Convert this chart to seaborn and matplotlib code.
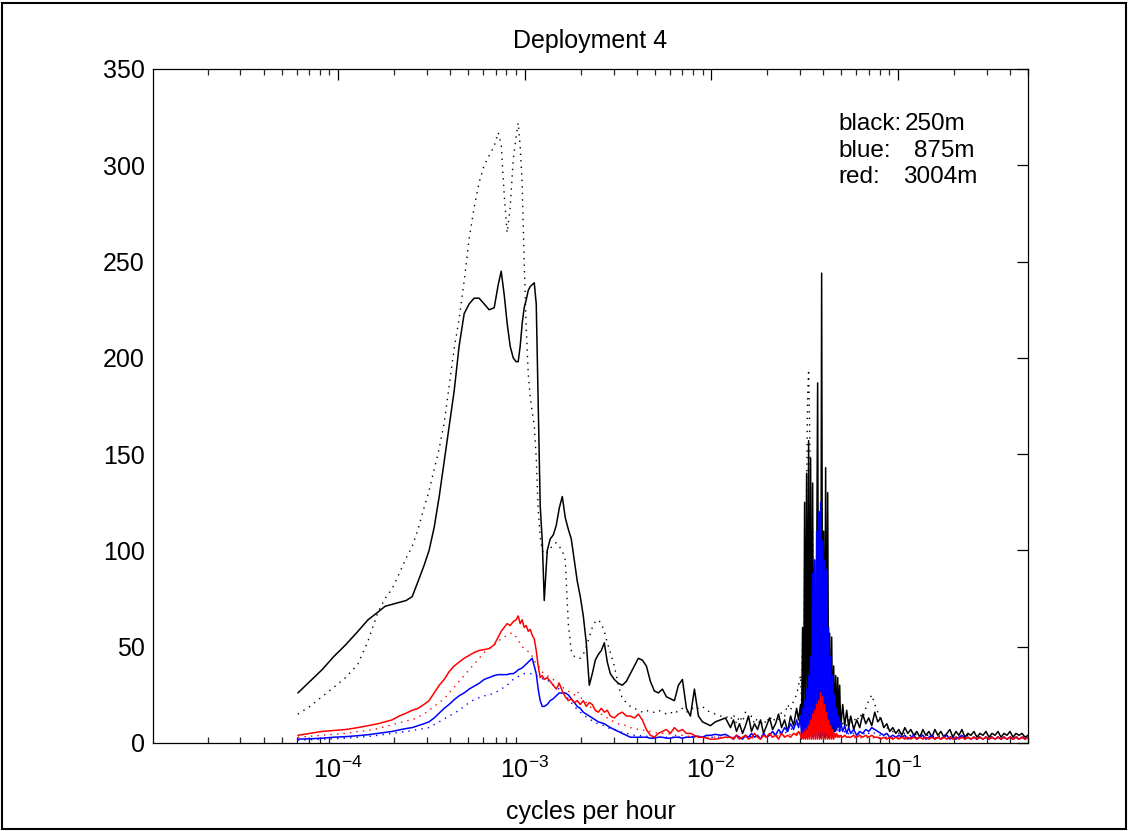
import numpy as np
import pandas as pd
import matplotlib
matplotlib.use("Agg")
import matplotlib.pyplot as plt
import seaborn as sns
from matplotlib.patches import Rectangle
from matplotlib.ticker import FixedLocator, LogLocator, LogFormatterSciNotation, NullFormatter

# ---------------- data (frequency in cycles per hour, spectral level) ----------------
freq_lo = [
    6.10e-5, 7.07e-5, 8.21e-5, 9.52e-5, 1.10e-4, 1.28e-4, 1.45e-4, 1.64e-4, 1.79e-4, 1.95e-4,
    2.13e-4, 2.32e-4, 2.50e-4, 2.69e-4, 2.89e-4, 3.08e-4, 3.28e-4, 3.49e-4, 3.71e-4, 3.94e-4,
    4.20e-4, 4.46e-4, 4.75e-4, 5.05e-4, 5.37e-4, 5.71e-4, 6.08e-4, 6.46e-4, 6.88e-4, 7.23e-4,
    7.50e-4, 7.78e-4, 8.07e-4, 8.38e-4, 8.70e-4, 9.02e-4, 9.25e-4, 9.48e-4, 9.72e-4, 9.96e-4,
    1.021e-3, 1.047e-3, 1.073e-3, 1.100e-3, 1.128e-3, 1.156e-3, 1.184e-3, 1.214e-3, 1.245e-3, 1.276e-3,
    1.324e-3, 1.374e-3, 1.426e-3, 1.480e-3, 1.536e-3, 1.594e-3, 1.654e-3, 1.717e-3, 1.781e-3, 1.849e-3,
    1.918e-3, 1.991e-3, 2.066e-3, 2.144e-3, 2.225e-3, 2.309e-3, 2.396e-3, 2.487e-3, 2.580e-3, 2.678e-3,
    2.779e-3, 2.884e-3, 3.030e-3, 3.184e-3, 3.345e-3, 3.515e-3, 3.693e-3, 3.880e-3, 4.077e-3, 4.284e-3,
    4.501e-3, 4.729e-3, 4.969e-3, 5.221e-3, 5.485e-3, 5.764e-3, 6.056e-3, 6.362e-3, 6.683e-3, 7.023e-3,
    7.379e-3, 7.752e-3, 8.145e-3, 8.558e-3, 8.991e-3, 9.447e-3, 9.926e-3, 1.056e-2, 1.123e-2, 1.195e-2,
]
freq_hi = [
    0.01271, 0.01319, 0.01369, 0.01421, 0.01475, 0.01530, 0.01588, 0.01648, 0.01710, 0.01775,
    0.01842, 0.01912, 0.01984, 0.02059, 0.02137, 0.02217, 0.02301, 0.02388, 0.02479, 0.02572,
    0.02669, 0.02770, 0.02875, 0.02945, 0.03019, 0.03057, 0.03095, 0.03134, 0.03173, 0.03212,
    0.03252, 0.03293, 0.03334, 0.03375, 0.03417, 0.03460, 0.03503, 0.03546, 0.03591, 0.03635,
    0.03681, 0.03727, 0.03773, 0.03820, 0.03868, 0.03916, 0.03964, 0.04014, 0.04064, 0.04114,
    0.04166, 0.04218, 0.04270, 0.04323, 0.04377, 0.04432, 0.04487, 0.04543, 0.04599, 0.04656,
    0.04714, 0.04773, 0.04832, 0.04892, 0.04953, 0.05077, 0.05204, 0.05334, 0.05468, 0.05605,
    0.05817, 0.06037, 0.06265, 0.06502, 0.06748, 0.07003, 0.07268, 0.07542, 0.07827, 0.08124,
    0.08431, 0.08749, 0.09080, 0.09423, 0.09781, 0.1015, 0.1053, 0.1093, 0.1134, 0.1177,
    0.1222, 0.1268, 0.1316, 0.1366, 0.1417, 0.1471, 0.1527, 0.1584, 0.1644, 0.1707,
    0.1771, 0.1838, 0.1907, 0.1979, 0.2054, 0.2132, 0.2212, 0.2296, 0.2383, 0.2473,
    0.2566, 0.2663, 0.2764, 0.2868, 0.2977, 0.3089, 0.3206, 0.3327, 0.3453, 0.3583,
    0.3719, 0.3859, 0.4005, 0.4156, 0.4313, 0.4476, 0.4645, 0.4821, 0.5000,
]

# black: 250 m (solid / dotted)
black_solid_lo = [
    26, 32, 38, 45, 51, 58, 64, 68, 71, 72,
    73, 74, 76, 84, 92, 100, 112, 128, 146, 164,
    183, 206, 223, 228, 231, 231, 228, 225, 226, 238,
    245, 233, 218, 206, 200, 198, 198, 206, 218, 226,
    230, 235, 237, 238, 239, 228, 176, 123, 105, 74,
    100, 106, 108, 113, 122, 128, 117, 111, 106, 95,
    84, 76, 66, 52, 30, 36, 43, 46, 48, 52,
    42, 36, 33, 31, 30, 32, 36, 40, 44, 43,
    40, 32, 27, 26, 28, 24, 23, 22, 30, 33,
    18, 14, 28, 14, 11, 10, 9, 11, 12, 13,
]
black_solid_hi = [
    8, 12, 6, 10, 5, 9, 14, 6, 10, 7,
    12, 5, 9, 13, 7, 10, 15, 8, 12, 6,
    14, 9, 18, 12, 20, 8, 60, 4, 125, 5,
    140, 6, 157, 4, 148, 5, 135, 4, 95, 3,
    85, 187, 4, 120, 3, 244, 4, 110, 3, 143,
    4, 130, 3, 57, 5, 55, 4, 40, 6, 35,
    7, 34, 9, 30, 8, 20, 9, 17, 8, 14,
    7, 12, 8, 15, 10, 13, 9, 16, 11, 13,
    8, 10, 6, 8, 5, 7, 4, 8, 5, 7,
    4, 6, 3, 7, 4, 6, 3, 7, 4, 6,
    3, 5, 7, 3, 6, 4, 7, 3, 5, 4,
    6, 3, 5, 4, 6, 3, 5, 4, 6, 3,
    5, 4, 6, 3, 5, 4, 5, 3, 4,
]
black_dot_lo = [
    15, 19, 24, 29, 34, 41, 53, 68, 75, 80,
    88, 96, 102, 111, 122, 131, 142, 153, 166, 185,
    205, 220, 240, 262, 278, 291, 300, 305, 310, 317,
    311, 285, 265, 278, 303, 315, 322, 310, 290, 250,
    216, 192, 180, 172, 165, 148, 121, 107, 100, 98,
    99, 101, 103, 104, 102, 100, 95, 62, 48, 45,
    44, 44, 46, 50, 55, 60, 63, 64, 62, 58,
    52, 47, 40, 30, 23, 21, 19, 18, 17, 16,
    17, 16, 16, 17, 16, 15, 16, 15, 17, 18,
    16, 17, 19, 18, 19, 17, 16, 15, 14, 14,
]
black_dot_hi = [
    12, 15, 10, 14, 11, 16, 12, 14, 10, 13,
    9, 12, 10, 14, 11, 13, 12, 16, 14, 20,
    17, 22, 25, 30, 35, 20, 55, 30, 90, 60,
    130, 180, 194, 165, 120, 70, 110, 40, 60, 25,
    50, 30, 45, 20, 60, 30, 90, 50, 70, 25,
    40, 20, 30, 15, 25, 12, 20, 10, 16, 8,
    14, 9, 13, 8, 12, 10, 13, 9, 12, 10,
    13, 11, 15, 13, 18, 22, 25, 20, 16, 12,
    9, 8, 7, 6, 5, 5, 4, 5, 4, 4,
    5, 4, 4, 5, 4, 4, 3, 4, 4, 3,
    4, 4, 3, 4, 3, 4, 3, 3, 4, 3,
    3, 4, 3, 3, 3, 4, 3, 3, 3, 3,
    3, 3, 3, 3, 3, 3, 3, 3, 3,
]

# blue: 875 m (solid / dotted)
blue_solid_lo = [
    2, 2.2, 2.5, 3, 3.3, 3.8, 4.3, 5, 5.5, 6,
    6.8, 7.5, 8, 9, 10, 11, 13, 15.5, 18, 20,
    22.5, 24.5, 26, 28, 29.5, 31, 33, 34, 35, 35.5,
    35.5, 35.5, 35.5, 36, 36, 37, 38, 38.5, 39, 40,
    41, 42, 43, 44, 40, 36, 28, 22, 19, 19,
    20, 22, 23, 24.5, 26, 26, 26, 25, 23, 21,
    19, 18, 16, 15, 14, 13, 12, 11, 10.5, 10,
    9, 8, 7, 6, 5, 4, 3, 3, 3, 3,
    3, 2.5, 2.5, 3, 3, 2.5, 2.5, 3, 3, 2.5,
    3, 3, 3.5, 3.5, 3, 4, 4, 4.5, 4, 4.5,
]
blue_solid_hi = [
    3, 2, 4, 3, 2, 4, 3, 5, 3, 4,
    2, 5, 3, 4, 6, 4, 7, 5, 8, 6,
    10, 7, 12, 8, 14, 3, 18, 4, 22, 3,
    28, 3, 35, 4, 45, 3, 88, 3, 95, 4,
    110, 3, 120, 4, 125, 3, 105, 4, 95, 3,
    90, 4, 60, 3, 45, 4, 35, 5, 25, 6,
    18, 8, 14, 6, 11, 6, 9, 5, 8, 5,
    7, 4, 6, 5, 7, 6, 8, 7, 6, 5,
    4, 5, 3, 4, 3, 4, 3, 4, 2, 3,
    4, 2, 3, 4, 2, 3, 4, 2, 3, 2,
    3, 4, 2, 3, 2, 3, 4, 2, 3, 2,
    3, 2, 3, 2, 3, 2, 3, 2, 3, 2,
    3, 2, 3, 2, 3, 2, 3, 2, 3,
]
blue_dot_lo = [
    1.5, 1.7, 2, 2.2, 2.5, 3, 3.4, 4, 4.5, 5,
    5.5, 6, 6.5, 7, 7.5, 8, 9.5, 11, 12.5, 14,
    15.5, 17, 19, 21, 22.5, 23.5, 24.5, 25, 26, 27,
    28, 29, 30, 31.5, 33, 34, 34.5, 35, 35.5, 36,
    36, 36, 36, 36, 35.5, 35, 34.5, 34, 33.5, 33,
    33, 31, 30, 29, 28, 26.5, 25, 23, 21, 19,
    17.5, 16, 15, 13.5, 12.5, 11.5, 10.5, 10, 9.5, 9,
    8, 7.5, 7, 6, 5.5, 5, 4.5, 4, 4, 3.5,
    3.5, 3, 3, 3, 3, 3, 3, 3, 3, 3,
    3, 3, 3, 3, 3, 3, 3, 3, 3, 3,
]
blue_dot_hi = [
    3, 2.5, 3, 2.5, 3, 3.5, 3, 3.5, 3, 4,
    3.5, 4, 3.5, 4.5, 4, 5, 4.5, 5.5, 5, 6,
    7, 8, 10, 12, 12, 8, 14, 9, 16, 10,
    18, 12, 20, 14, 25, 15, 50, 30, 55, 35,
    65, 40, 75, 45, 80, 50, 70, 40, 60, 30,
    45, 25, 35, 18, 25, 12, 18, 9, 14, 7,
    10, 6, 8, 5, 7, 5, 6, 4, 5, 4,
    5, 4, 5, 4, 6, 5, 6, 5, 4, 4,
    3, 3, 3, 2.5, 3, 2.5, 3, 2.5, 3, 2.5,
    3, 2.5, 3, 2.5, 3, 2.5, 3, 2.5, 3, 2.5,
    3, 2.5, 3, 2.5, 3, 2.5, 3, 2.5, 3, 2.5,
    3, 2.5, 3, 2.5, 3, 2.5, 3, 2.5, 3, 2.5,
    3, 2.5, 3, 2.5, 3, 2.5, 3, 2.5, 3,
]

# red: 3004 m (solid / dotted)
red_solid_lo = [
    4, 5, 6, 6.5, 7, 8, 9, 10, 11, 12,
    14, 15.5, 17, 18, 20, 22, 26, 30, 33, 37,
    40, 42, 44, 45.5, 47, 48, 48.5, 49, 51, 55,
    58, 60, 62, 61, 63, 64, 66, 62, 64, 60,
    61, 58, 59, 56, 54, 48, 40, 34, 35, 33,
    34, 32, 30, 28, 31, 27, 24, 22, 23, 21,
    22, 20, 22, 19, 21, 20, 17, 16, 18, 16,
    17, 14, 13, 15, 16, 14, 14, 13, 15, 12,
    7, 4, 3, 5, 6, 7, 5, 8, 6, 7,
    5, 5, 4, 3, 3, 2.5, 2, 2, 2.5, 3,
]
red_solid_hi = [
    3, 2, 4, 2, 3, 4, 2, 3, 5, 3,
    2, 4, 3, 5, 3, 4, 2, 5, 3, 4,
    3, 5, 4, 6, 4, 2, 5, 2, 6, 2,
    7, 2, 9, 2, 12, 2, 15, 2, 17, 2,
    20, 2, 22, 2, 26, 2, 24, 2, 20, 2,
    16, 2, 12, 2, 9, 2, 7, 2, 5, 3,
    5, 3, 4, 3, 4, 3, 4, 3, 3, 3,
    4, 3, 4, 3, 4, 3, 4, 3, 3, 2,
    3, 2, 3, 2, 3, 2, 3, 2, 3, 2,
    3, 2, 3, 2, 3, 2, 3, 2, 3, 2,
    3, 2, 3, 2, 3, 2, 3, 2, 3, 2,
    3, 2, 3, 2, 3, 2, 3, 2, 3, 2,
    3, 2, 3, 2, 3, 2, 3, 2, 3,
]
red_dot_lo = [
    3, 3.5, 4, 4.5, 5, 6, 6.5, 7.5, 8.5, 9.5,
    10.5, 11.5, 12, 13.5, 15, 17, 19, 21, 23, 26,
    29, 32, 35, 38, 41, 44, 47, 49, 51, 53,
    54, 55, 56, 57, 57, 55, 53, 52, 50, 49,
    48, 47.5, 47, 45, 43, 41, 40, 39, 37, 36,
    35, 34, 33, 32, 31, 29, 28, 27, 26, 25,
    27, 24, 22, 21, 19, 18, 17, 16, 15, 14,
    13, 12, 11, 10, 9.5, 9, 8, 7.5, 7, 7,
    6, 6, 5.5, 5, 5, 5, 4.5, 4, 4, 4,
    3.5, 3.5, 3, 3, 3, 3, 3, 3, 3, 3,
]
red_dot_hi = [
    2.5, 3, 2.5, 3, 2.5, 3, 3, 2.5, 3, 3,
    3, 3, 3.5, 3, 3.5, 3, 4, 3.5, 4, 4,
    4.5, 5, 5, 6, 5, 6, 4, 7, 5, 8,
    6, 9, 7, 10, 8, 11, 9, 12, 10, 14,
    11, 15, 12, 16, 13, 15, 12, 14, 10, 12,
    9, 10, 7, 8, 6, 7, 5, 6, 4, 5,
    4, 4, 3, 4, 3, 3, 3, 3, 3, 3,
    3, 2.5, 3, 2.5, 3, 2.5, 3, 2.5, 3, 2.5,
    3, 2.5, 3, 2.5, 3, 2.5, 3, 2.5, 3, 2.5,
    3, 2.5, 3, 2.5, 3, 2.5, 3, 2.5, 3, 2.5,
    3, 2.5, 3, 2.5, 3, 2.5, 3, 2.5, 3, 2.5,
    3, 2.5, 3, 2.5, 3, 2.5, 3, 2.5, 3, 2.5,
    3, 2.5, 3, 2.5, 3, 2.5, 3, 2.5, 3,
]

yticks = [0, 50, 100, 150, 200, 250, 300, 350]
xticks = [1e-4, 1e-3, 1e-2, 1e-1]
title = "Deployment 4"
xlabel = "cycles per hour"
legend_names = ["black:", "blue:", "red:"]
legend_depths = ["250m", "875m", "3004m"]

# ---------------- figure ----------------
sns.set_theme(style="white")
plt.rcParams['font.family'] = ['Liberation Sans', 'DejaVu Sans']
plt.rcParams['mathtext.fontset'] = 'custom'
plt.rcParams['mathtext.rm'] = 'Liberation Sans'
plt.rcParams['mathtext.it'] = 'Liberation Sans:italic'
plt.rcParams['mathtext.bf'] = 'Liberation Sans:bold'

FS = 18
W, H = 1128, 831
fig = plt.figure(figsize=(W / 100, H / 100), dpi=100)
fig.patch.set_facecolor('white')
L, R, T, B = 153, 1028, 69, 743
ax = fig.add_axes([L / W, 1 - B / H, (R - L) / W, (B - T) / H])
ax.set_facecolor('white')
ax.set_xscale('log')

freq = np.array(freq_lo + freq_hi)
dotted = (0, (1, 3.7))
series = [
    (black_solid_lo + black_solid_hi, '#000000', '-', 1.1),
    (black_dot_lo + black_dot_hi, '#000000', dotted, 1.0),
    (blue_solid_lo + blue_solid_hi, '#0000ff', '-', 1.1),
    (blue_dot_lo + blue_dot_hi, '#0000ff', dotted, 1.0),
    (red_solid_lo + red_solid_hi, '#ff0000', '-', 1.1),
    (red_dot_lo + red_dot_hi, '#ff0000', dotted, 1.0),
]
for vals, color, ls, lw in series:
    n = min(len(freq), len(vals))
    df = pd.DataFrame({'f': freq[:n], 'v': np.array(vals[:n], dtype=float)})
    sns.lineplot(data=df, x='f', y='v', color=color, linestyle=ls, linewidth=lw,
                 estimator=None, sort=False, ax=ax, legend=False)

ax.set_xlim(1.02e-5, 0.5)
ax.set_ylim(0, 350)
ax.set_yticks(yticks)
ax.set_yticklabels([str(v) for v in yticks])
ax.xaxis.set_major_locator(FixedLocator(xticks))
ax.xaxis.set_major_formatter(LogFormatterSciNotation(base=10))
ax.xaxis.set_minor_locator(LogLocator(base=10, subs=np.arange(2, 10), numticks=12))
ax.xaxis.set_minor_formatter(NullFormatter())

ax.tick_params(axis='both', which='major', direction='in', length=8, width=0.9,
               top=True, right=True, colors='black', labelsize=FS)
ax.tick_params(axis='x', which='minor', direction='in', length=4.5, width=0.9,
               top=True, bottom=True)
ax.tick_params(axis='y', which='major', pad=6)
ax.tick_params(axis='x', which='major', pad=10)
for s in ax.spines.values():
    s.set_visible(True)
    s.set_color('black')
    s.set_linewidth(0.9)
ax.grid(False)

ax.set_title(title, fontsize=FS, pad=15, color='black')
ax.set_xlabel(xlabel, fontsize=FS, labelpad=12, color='black')
ax.set_ylabel('')

# legend-like annotation
base_y = [130, 157, 183]
val_x = [905, 914, 903]
for name, depth, by, vx in zip(legend_names, legend_depths, base_y, val_x):
    fig.text(838 / W, 1 - by / H, name, fontsize=FS - 0.5, va='baseline', ha='left', color='black')
    fig.text(vx / W, 1 - by / H, depth, fontsize=FS - 0.5, va='baseline', ha='left', color='black')

# outer frame of the picture
fig.patches.append(Rectangle((0.002, 0.003), 0.996, 0.993, transform=fig.transFigure,
                             fill=False, edgecolor='black', linewidth=1.5))

fig.savefig('out.png', dpi=100)
